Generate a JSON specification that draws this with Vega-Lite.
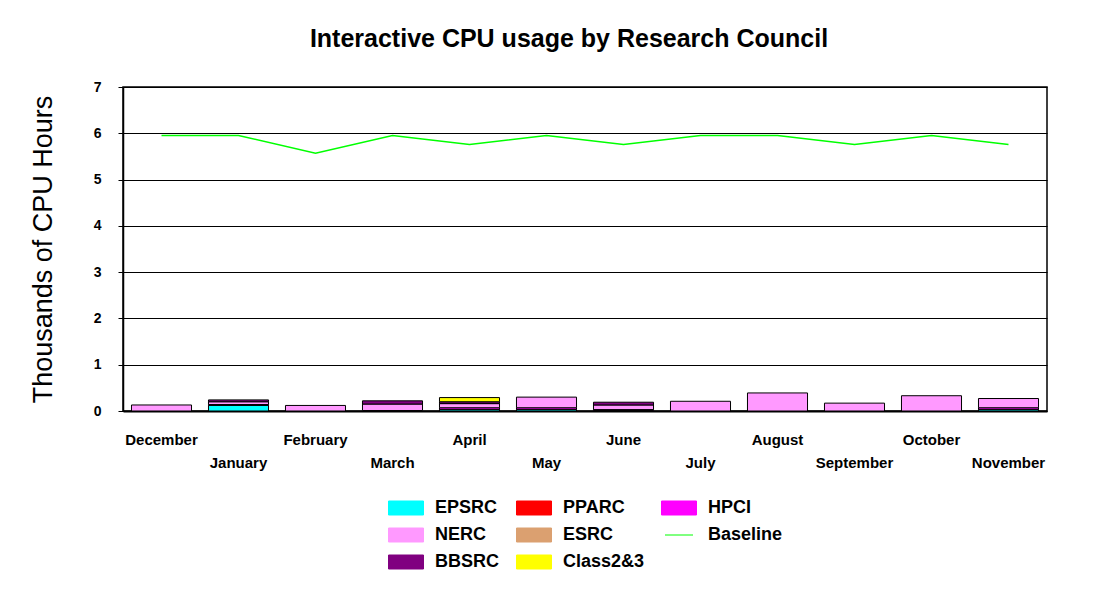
{
  "$schema": "https://vega.github.io/schema/vega-lite/v6.json",
  "width": 924,
  "height": 324,
  "autosize": "none",
  "padding": {"left": 123, "top": 87, "right": 63, "bottom": 188},
  "background": "white",
  "config": {
    "font": "Liberation Sans",
    "view": {"stroke": "black", "strokeWidth": 1.5}
  },
  "title": {
    "text": "Interactive CPU usage by Research Council",
    "fontSize": 25,
    "fontWeight": "bold",
    "color": "black",
    "anchor": "middle",
    "offset": 28,
    "dx": -16
  },
  "datasets": {
    "bars": [
      {"month": "December", "council": "NERC", "value": 0.13},
      {"month": "January", "council": "EPSRC", "value": 0.12},
      {"month": "January", "council": "HPCI", "value": 0.02},
      {"month": "January", "council": "NERC", "value": 0.06},
      {"month": "January", "council": "BBSRC", "value": 0.04},
      {"month": "February", "council": "NERC", "value": 0.12},
      {"month": "March", "council": "EPSRC", "value": 0.01},
      {"month": "March", "council": "NERC", "value": 0.14},
      {"month": "March", "council": "BBSRC", "value": 0.07},
      {"month": "April", "council": "EPSRC", "value": 0.03},
      {"month": "April", "council": "HPCI", "value": 0.04},
      {"month": "April", "council": "NERC", "value": 0.09},
      {"month": "April", "council": "BBSRC", "value": 0.04},
      {"month": "April", "council": "Class2&3", "value": 0.09},
      {"month": "May", "council": "EPSRC", "value": 0.03},
      {"month": "May", "council": "HPCI", "value": 0.04},
      {"month": "May", "council": "NERC", "value": 0.23},
      {"month": "June", "council": "EPSRC", "value": 0.01},
      {"month": "June", "council": "HPCI", "value": 0.02},
      {"month": "June", "council": "NERC", "value": 0.10},
      {"month": "June", "council": "BBSRC", "value": 0.06},
      {"month": "July", "council": "NERC", "value": 0.21},
      {"month": "August", "council": "NERC", "value": 0.39},
      {"month": "September", "council": "NERC", "value": 0.17},
      {"month": "October", "council": "NERC", "value": 0.33},
      {"month": "November", "council": "EPSRC", "value": 0.03},
      {"month": "November", "council": "HPCI", "value": 0.04},
      {"month": "November", "council": "NERC", "value": 0.20}
    ],
    "base": [
      {"month": "December", "value": 5.952},
      {"month": "January", "value": 5.952},
      {"month": "February", "value": 5.568},
      {"month": "March", "value": 5.952},
      {"month": "April", "value": 5.76},
      {"month": "May", "value": 5.952},
      {"month": "June", "value": 5.76},
      {"month": "July", "value": 5.952},
      {"month": "August", "value": 5.952},
      {"month": "September", "value": 5.76},
      {"month": "October", "value": 5.952},
      {"month": "November", "value": 5.76}
    ]
  },
  "layer": [
    {
      "data": {"name": "bars"},
      "transform": [
        {"calculate": "indexof(['EPSRC','PPARC','HPCI','NERC','ESRC','BBSRC','Class2&3'], datum.council)", "as": "stackRank"}
      ],
      "mark": {"type": "bar", "stroke": "black", "strokeWidth": 1, "width": {"band": 0.78}},
      "encoding": {
        "x": {
          "field": "month",
          "type": "nominal",
          "sort": ["December", "January", "February", "March", "April", "May", "June", "July", "August", "September", "October", "November"],
          "scale": {"paddingInner": 0, "paddingOuter": 0},
          "axis": {
            "title": null,
            "ticks": false,
            "domainColor": "black",
            "domainWidth": 2,
            "labelAngle": 0,
            "labelFontSize": 15,
            "labelFontWeight": "bold",
            "labelColor": "black",
            "labelPadding": 21,
            "labelOverlap": false,
            "labelLineHeight": 23,
            "labelBaseline": "top",
            "labelExpr": "indexof(['January','March','May','July','September','November'], datum.value) >= 0 ? ['', datum.value] : datum.value"
          }
        },
        "y": {
          "field": "value",
          "type": "quantitative",
          "stack": "zero",
          "scale": {"domain": [0, 7], "nice": false},
          "axis": {
            "title": "Thousands of CPU Hours",
            "titleFontSize": 27,
            "titleFontWeight": "normal",
            "titleColor": "black",
            "titlePadding": 36,
            "values": [0, 1, 2, 3, 4, 5, 6, 7],
            "grid": true,
            "gridColor": "black",
            "gridOpacity": 1,
            "gridWidth": 1,
            "domainColor": "black",
            "domainWidth": 1.5,
            "tickColor": "black",
            "tickSize": 5,
            "labelFontSize": 14,
            "labelFontWeight": "bold",
            "labelColor": "black",
            "labelPadding": 17
          }
        },
        "order": {"field": "stackRank", "type": "quantitative", "sort": "ascending"},
        "color": {
          "field": "council",
          "type": "nominal",
          "scale": {
            "domain": ["EPSRC", "PPARC", "HPCI", "NERC", "ESRC", "Baseline", "BBSRC", "Class2&3"],
            "range": ["#00ffff", "#ff0000", "#ff00ff", "#ff99ff", "#dba070", "#00ff00", "#800080", "#ffff00"]
          },
          "legend": {
            "title": null,
            "orient": "none",
            "legendX": 265,
            "legendY": 403,
            "direction": "horizontal",
            "columns": 3,
            "columnPadding": 14,
            "rowPadding": -9,
            "labelFontSize": 18,
            "labelFontWeight": "bold",
            "labelColor": "black",
            "labelOffset": 11,
            "symbolType": "M-1,-0.4H1V0.4H-1Z",
            "symbolSize": 1225,
            "symbolStrokeColor": "black",
            "symbolStrokeWidth": 1,
            "symbolOpacity": 1,
            "encode": {
              "symbols": {
                "update": {
                  "shape": {"signal": "datum.label === 'Baseline' ? 'M-0.8,0H0.8' : 'M-1,-0.4H1V0.4H-1Z'"},
                  "stroke": {"signal": "datum.label === 'Baseline' ? '#00ff00' : 'black'"},
                  "fill": {"signal": "datum.label === 'Baseline' ? 'transparent' : scale('color', datum.value)"}
                }
              }
            }
          }
        }
      }
    },
    {
      "data": {"name": "base"},
      "mark": {"type": "line", "strokeWidth": 1.5},
      "encoding": {
        "x": {
          "field": "month",
          "type": "nominal",
          "sort": ["December", "January", "February", "March", "April", "May", "June", "July", "August", "September", "October", "November"]
        },
        "y": {"field": "value", "type": "quantitative"},
        "color": {"datum": "Baseline"}
      }
    }
  ]
}
